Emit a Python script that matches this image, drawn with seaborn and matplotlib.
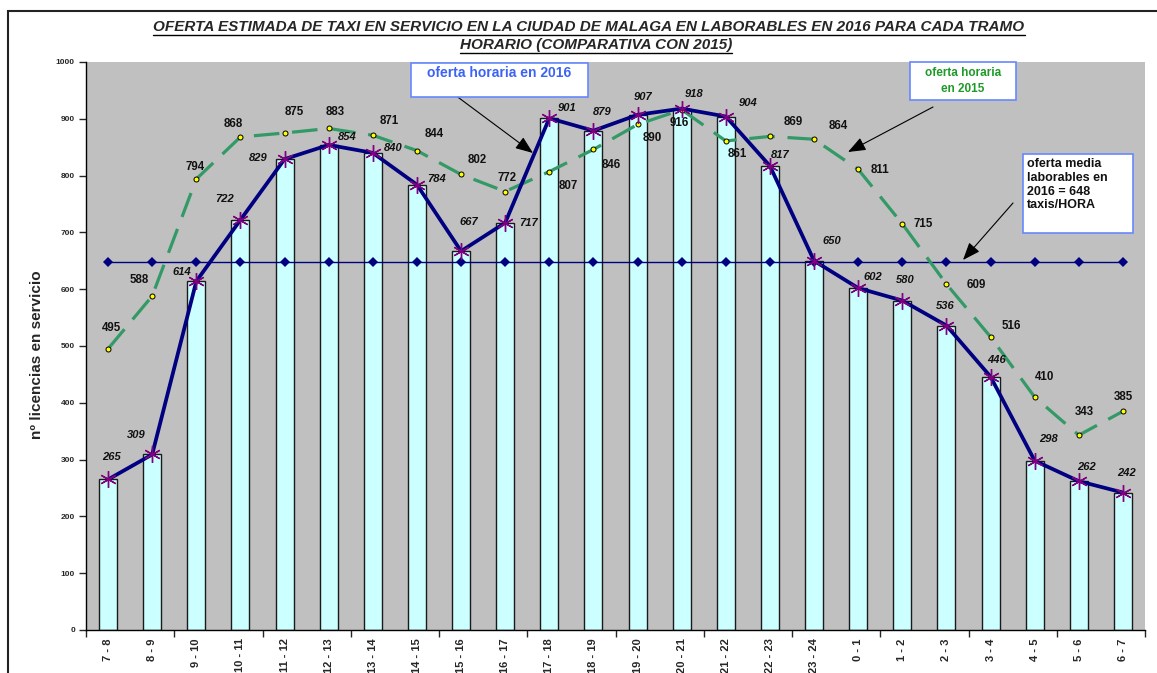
import numpy as np
import pandas as pd
import seaborn as sns
import matplotlib
matplotlib.use("Agg")
import matplotlib.pyplot as plt
from matplotlib.patches import Rectangle
from matplotlib.lines import Line2D

# tramos horarios
tramos = ["7 - 8", "8 - 9", "9 - 10", "10 - 11", "11 - 12", "12 - 13", "13 - 14",
          "14 - 15", "15 - 16", "16 - 17", "17 - 18", "18 - 19", "19 - 20", "20 - 21",
          "21 - 22", "22 - 23", "23 - 24", "0 - 1", "1 - 2", "2 - 3", "3 - 4",
          "4 - 5", "5 - 6", "6 - 7"]
oferta_2016 = [265, 309, 614, 722, 829, 854, 840, 784, 667, 717, 901, 879,
               907, 918, 904, 817, 650, 602, 580, 536, 446, 298, 262, 242]
oferta_2015 = [495, 588, 794, 868, 875, 883, 871, 844, 802, 772, 807, 846,
               890, 916, 861, 869, 864, 811, 715, 609, 516, 410, 343, 385]
media_2016 = 648

# label offsets in pixels (dx right, dy down)
off_2016 = [(3, -22), (-16, -19), (-14, -9), (-16, -21), (-26, -1), (19, -8),
            (20, -5), (20, -6), (8, -29), (23, 0), (18, -10), (9, -19),
            (6, -18), (12, -15), (22, -14), (10, -11), (18, -20), (15, -11),
            (3, -21), (-1, -20), (6, -17), (14, -22), (8, -14), (4, -20)]
off_2015 = [(3, -21), (-13, -16), (-1, -12), (-7, -13), (10, -21), (6, -16),
            (16, -14), (17, -17), (16, -14), (2, -14), (19, 14), (18, 16),
            (15, 14), (-2, 13), (12, 13), (23, -14), (24, -13), (22, 1),
            (21, 0), (30, 1), (21, -11), (10, -20), (6, -23), (0, -14)]

W, H = 1157, 673
FONT = ["Liberation Sans", "DejaVu Sans"]

sns.set_theme(style="white")
plt.rcParams["font.family"] = FONT

fig = plt.figure(figsize=(W / 100, H / 100), dpi=100)
ax = fig.add_axes([86 / W, 1 - 630 / H, (1145 - 86) / W, (630 - 62) / H])
ax.set_facecolor("#C0C0C0")

df = pd.DataFrame({"tramo": tramos, "v2016": oferta_2016, "v2015": oferta_2015})
idx = np.arange(len(tramos))

sns.barplot(data=df, x="tramo", y="v2016", color="#CCFFFF", saturation=1,
            edgecolor="#1a1a1a", linewidth=1.0, width=0.41, ax=ax, zorder=2)

# media 2016
sns.lineplot(x=idx, y=[media_2016] * len(idx), color="#000080", lw=1.0,
             marker="D", markersize=5, markeredgewidth=0, sort=False, ax=ax,
             zorder=3)

# oferta 2015
sns.lineplot(x=idx, y=df["v2015"], color="#339966", lw=2.3, sort=False, ax=ax,
             dashes=False, zorder=4)
ax.lines[-1].set_dashes((8, 4))
ax.plot(idx, df["v2015"], ls="none", marker="o", markersize=3.6,
        markerfacecolor="#FFFF00", markeredgecolor="black", markeredgewidth=0.7,
        zorder=5)

# oferta 2016
sns.lineplot(x=idx, y=df["v2016"], color="#000080", lw=2.7, sort=False, ax=ax,
             zorder=6)
ax.plot(idx, df["v2016"], ls="none", marker=(6, 2, 0), markersize=12,
        markeredgecolor="#800080", markeredgewidth=1.0, zorder=7)

for i, v in enumerate(oferta_2016):
    dx, dy = off_2016[i]
    ax.annotate(str(v), (i, v), xytext=(dx, -dy), textcoords="offset pixels",
                ha="center", va="center", fontsize=8, fontweight="bold",
                fontstyle="italic", color="#111111", zorder=8)
for i, v in enumerate(oferta_2015):
    dx, dy = off_2015[i]
    ax.annotate(str(v), (i, v), xytext=(dx, -dy), textcoords="offset pixels",
                ha="center", va="center", fontsize=8.3, fontweight="bold",
                color="#111111", zorder=8)

ax.set_xlim(-0.5, len(tramos) - 0.5)
ax.set_ylim(0, 1000)
ax.set_yticks(np.arange(0, 1001, 100))
ax.set_yticklabels([str(t) for t in range(0, 1001, 100)], fontsize=6,
                   fontweight="bold")
ax.set_xticks(idx)
ax.set_xticklabels(tramos, rotation=90, fontsize=8, fontweight="bold")
ax.tick_params(axis="x", length=0, pad=6)
ax.tick_params(axis="y", length=5, width=1, direction="out", pad=3, left=True)
ax.set_xticks(np.arange(-0.5, len(tramos), 2), minor=True)
ax.tick_params(axis="x", which="minor", length=5, width=1, direction="out",
               bottom=True)
ax.set_xlabel("")
ax.set_ylabel("")
for s in ["top", "right"]:
    ax.spines[s].set_visible(False)
for s in ["left", "bottom"]:
    ax.spines[s].set_color("black")
    ax.spines[s].set_linewidth(1.0)

fig.text(37 / W, 1 - 355 / H, "nº licencias en servicio", rotation=90,
         ha="center", va="center", fontsize=11, fontweight="bold")

# titulo subrayado
t1 = fig.text(589 / W, 1 - 27 / H,
              "OFERTA ESTIMADA DE TAXI EN SERVICIO EN LA CIUDAD DE MALAGA EN LABORABLES EN 2016 PARA CADA TRAMO",
              ha="center", va="center", fontsize=11, fontweight="bold",
              fontstyle="italic")
t2 = fig.text(596 / W, 1 - 45 / H, "HORARIO (COMPARATIVA CON 2015)",
              ha="center", va="center", fontsize=11, fontweight="bold",
              fontstyle="italic")
fig.canvas.draw()
for t in (t1, t2):
    bb = t.get_window_extent()
    fig.add_artist(Line2D([bb.x0 / W, bb.x1 / W], [(bb.y0 - 1) / H, (bb.y0 - 1) / H],
                          transform=fig.transFigure, color="black", lw=1.0))

# marco exterior
fig.add_artist(Rectangle((8 / W, -0.05), 1.2, 1.05 - 11 / H, fill=False,
                         edgecolor="#222222", lw=1.5, transform=fig.transFigure))


def caja(x0, y0, x1, y1, edge):
    fig.add_artist(Rectangle((x0 / W, 1 - y1 / H), (x1 - x0) / W, (y1 - y0) / H,
                             facecolor="white", edgecolor=edge, lw=1.2,
                             transform=fig.transFigure, zorder=10))


def flecha(xs, ys, xe, ye):
    ax.annotate("", xy=(xe / W, 1 - ye / H), xycoords="figure fraction",
                xytext=(xs / W, 1 - ys / H), textcoords="figure fraction",
                arrowprops=dict(arrowstyle="-|>,head_length=0.9,head_width=0.35",
                                color="black", lw=0.8, shrinkA=0, shrinkB=0),
                zorder=11)


caja(411, 63, 588, 97, "#6688FF")
fig.text(499 / W, 1 - 73 / H, "oferta horaria en 2016", ha="center", va="center",
         fontsize=10, fontweight="bold", color="#3D63F5", zorder=11)
flecha(455, 95, 533, 153)

caja(910, 62, 1016, 100, "#6688FF")
fig.text(963 / W, 1 - 81 / H, "oferta horaria\nen 2015", ha="center",
         va="center", fontsize=8.5, fontweight="bold", color="#1E9A28",
         linespacing=1.35, zorder=11)
flecha(933, 107, 848, 152)

caja(1023, 154, 1133, 233, "#6688FF")
fig.text(1027 / W, 1 - 158 / H,
         "oferta media\nlaborables en\n2016 = 648\ntaxis/HORA", ha="left",
         va="top", fontsize=9, fontweight="bold", color="#111111",
         linespacing=1.2, zorder=11)
flecha(1013, 203, 963, 260)

fig.savefig("out.png", dpi=100, facecolor="white")
